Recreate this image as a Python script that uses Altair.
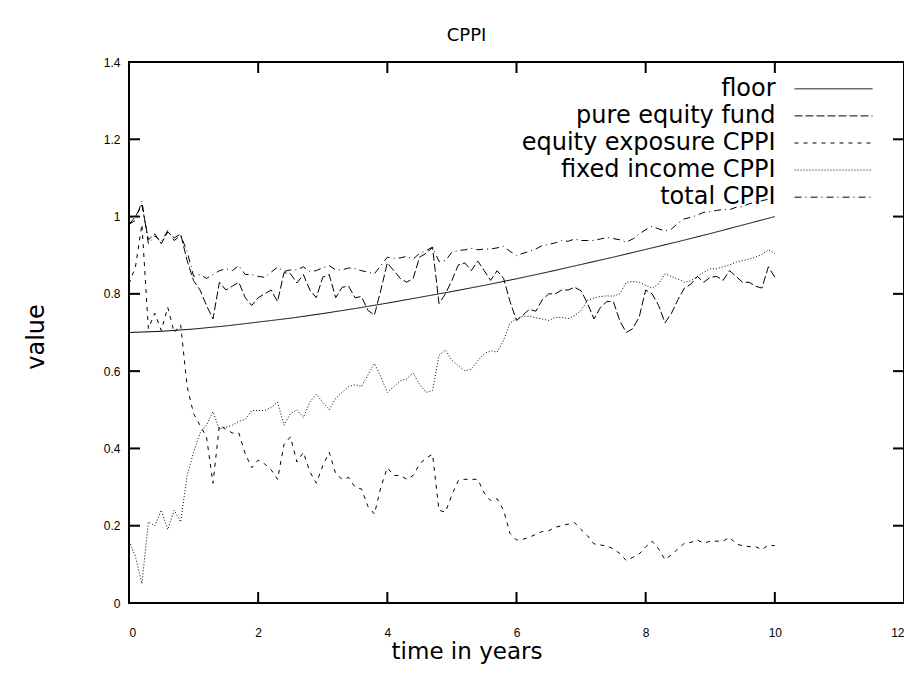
import altair as alt
import pandas as pd

# ---------------- data ----------------
years = [round(i * 0.1, 1) for i in range(101)]
floor_years = [round(i * 0.5, 1) for i in range(21)]

floor_vals = [0.700, 0.703, 0.709, 0.717, 0.727, 0.737, 0.749, 0.762, 0.776, 0.791,
              0.806, 0.822, 0.839, 0.857, 0.876, 0.895, 0.915, 0.935, 0.956, 0.978,
              1.000]

pure_equity = [
    0.98, 1.0, 1.03, 0.94, 0.955, 0.93, 0.96, 0.945, 0.955, 0.886,
    0.834, 0.81, 0.77, 0.735, 0.83, 0.81, 0.82, 0.83, 0.79, 0.77,
    0.79, 0.80, 0.81, 0.78, 0.855, 0.852, 0.828, 0.85, 0.81, 0.79,
    0.843, 0.85, 0.79, 0.817, 0.82, 0.79, 0.793, 0.757, 0.745, 0.81,
    0.88, 0.86, 0.84, 0.83, 0.84, 0.895, 0.905, 0.92, 0.775, 0.80,
    0.835, 0.875, 0.88, 0.86, 0.885, 0.86, 0.835, 0.86, 0.84, 0.78,
    0.731, 0.745, 0.76, 0.755, 0.785, 0.80, 0.80, 0.81, 0.81, 0.817,
    0.808, 0.775, 0.735, 0.765, 0.78, 0.78, 0.73, 0.70, 0.71, 0.74,
    0.81, 0.80, 0.77, 0.725, 0.75, 0.785, 0.815, 0.825, 0.845, 0.83,
    0.843, 0.845, 0.835, 0.86, 0.845, 0.83, 0.83, 0.82, 0.815, 0.87,
    0.843]

equity_exposure = [
    0.826, 0.87, 0.98, 0.71, 0.75, 0.705, 0.765, 0.70, 0.72, 0.56,
    0.49, 0.46, 0.43, 0.31, 0.46, 0.45, 0.44, 0.44, 0.386, 0.35,
    0.37, 0.36, 0.345, 0.32, 0.41, 0.43, 0.365, 0.39, 0.34, 0.31,
    0.355, 0.39, 0.335, 0.32, 0.325, 0.30, 0.295, 0.25, 0.23, 0.30,
    0.35, 0.33, 0.33, 0.32, 0.33, 0.36, 0.375, 0.385, 0.24, 0.235,
    0.28, 0.317, 0.32, 0.32, 0.32, 0.285, 0.265, 0.27, 0.24, 0.18,
    0.163, 0.165, 0.17, 0.178, 0.185, 0.187, 0.196, 0.20, 0.204, 0.208,
    0.19, 0.174, 0.153, 0.15, 0.148, 0.14, 0.128, 0.11, 0.118, 0.127,
    0.145, 0.16, 0.14, 0.112, 0.125, 0.14, 0.155, 0.157, 0.163, 0.155,
    0.16, 0.16, 0.16, 0.17, 0.153, 0.148, 0.146, 0.146, 0.138, 0.15,
    0.148]

fixed_income = [
    0.16, 0.12, 0.05, 0.21, 0.20, 0.24, 0.19, 0.24, 0.21, 0.33,
    0.39, 0.44, 0.46, 0.495, 0.45, 0.455, 0.46, 0.47, 0.475, 0.498,
    0.498, 0.498, 0.506, 0.52, 0.46, 0.49, 0.50, 0.48, 0.52, 0.54,
    0.52, 0.50, 0.53, 0.545, 0.56, 0.565, 0.56, 0.59, 0.62, 0.585,
    0.545, 0.56, 0.575, 0.58, 0.595, 0.565, 0.545, 0.55, 0.64, 0.655,
    0.628, 0.614, 0.601, 0.605, 0.627, 0.645, 0.653, 0.649, 0.68, 0.725,
    0.735, 0.742, 0.742, 0.738, 0.735, 0.731, 0.739, 0.739, 0.736, 0.744,
    0.757, 0.783, 0.789, 0.793, 0.795, 0.794, 0.80, 0.83, 0.832, 0.83,
    0.822, 0.815, 0.826, 0.852, 0.845, 0.838, 0.83, 0.834, 0.845, 0.856,
    0.865, 0.865, 0.87, 0.875, 0.882, 0.886, 0.89, 0.895, 0.902, 0.914,
    0.905]

total_cppi = [
    0.98, 0.99, 1.04, 0.93, 0.95, 0.935, 0.964, 0.938, 0.951, 0.91,
    0.845, 0.85, 0.84, 0.85, 0.86, 0.865, 0.86, 0.873, 0.85, 0.85,
    0.845, 0.843, 0.856, 0.869, 0.858, 0.862, 0.862, 0.87, 0.858, 0.86,
    0.868, 0.873, 0.862, 0.862, 0.867, 0.865, 0.86, 0.856, 0.852, 0.873,
    0.895, 0.892, 0.893, 0.897, 0.89, 0.905, 0.912, 0.921, 0.884, 0.886,
    0.908, 0.912, 0.914, 0.918, 0.914, 0.916, 0.916, 0.919, 0.923, 0.91,
    0.899, 0.905, 0.91, 0.916, 0.925, 0.928, 0.932, 0.938, 0.936, 0.942,
    0.938, 0.938, 0.938, 0.942, 0.946, 0.943, 0.94, 0.934, 0.942, 0.955,
    0.966, 0.975, 0.968, 0.963, 0.968, 0.983, 0.994, 0.998, 1.004, 1.011,
    1.013, 1.016, 1.018, 1.018, 1.024, 1.026, 1.033, 1.037, 1.041, 1.045,
    1.046]

series_names = ["floor", "pure equity fund", "equity exposure CPPI",
                "fixed income CPPI", "total CPPI"]
dashes = [[1, 0], [8, 3], [4, 5], [1, 2], [7, 4, 1, 4]]
x_ticks = [0, 2, 4, 6, 8, 10, 12]
y_ticks = [0, 0.2, 0.4, 0.6, 0.8, 1, 1.2, 1.4]

# ---------------- table ----------------
rows = [{"series": "floor", "t": t, "v": v} for t, v in zip(floor_years, floor_vals)]
for name, vals in [("pure equity fund", pure_equity),
                   ("equity exposure CPPI", equity_exposure),
                   ("fixed income CPPI", fixed_income),
                   ("total CPPI", total_cppi)]:
    rows += [{"series": name, "t": t, "v": v} for t, v in zip(years, vals)]
df = pd.DataFrame(rows)

W, H = 775, 541
FONT = "DejaVu Sans"
TICK_FONT = "Liberation Sans"

xs = alt.Scale(domain=[0, 12], nice=False, zero=False)
ys = alt.Scale(domain=[0, 1.4], nice=False, zero=False)

x_axis = alt.Axis(values=x_ticks, title="time in years", ticks=False, tickSize=0,
                  domain=False, grid=False, labelPadding=24, labelFontSize=12,
                  labelFlush=True, labelOverlap=False,
                  labelFont=TICK_FONT, titleFont=FONT, titleFontSize=23,
                  titleFontWeight="normal", titleX=337.5, titleY=48.5,
                  titleAlign="center", titleBaseline="middle", format="~g")
y_axis = alt.Axis(values=y_ticks, title="value", ticks=False, tickSize=0,
                  domain=False, grid=False, labelPadding=9, labelFontSize=12,
                  labelFlush=False, labelOverlap=False,
                  labelFont=TICK_FONT, titleFont=FONT, titleFontSize=24,
                  titleFontWeight="normal", titleAngle=270, titleX=-92.5,
                  titleY=274.5, titleAlign="center", titleBaseline="middle",
                  format="~g")

X_ENC = alt.X("t:Q", scale=xs, axis=x_axis)
Y_ENC = alt.Y("v:Q", scale=ys, axis=y_axis)

lines = alt.Chart(df).mark_line(strokeWidth=1, color="black").encode(
    x=X_ENC, y=Y_ENC,
    detail="series:N",
    strokeDash=alt.StrokeDash("series:N",
                              scale=alt.Scale(domain=series_names, range=dashes),
                              legend=None),
)

xt = pd.DataFrame({"t": x_ticks})
yt = pd.DataFrame({"v": y_ticks})
tick_bottom = alt.Chart(xt).mark_tick(orient="vertical", size=11, thickness=2, color="black",
                                      opacity=1).encode(x=X_ENC, y=alt.value(H - 5.5))
tick_top = alt.Chart(xt).mark_tick(orient="vertical", size=11, thickness=2, color="black",
                                   opacity=1).encode(x=X_ENC, y=alt.value(5.5))
tick_left = alt.Chart(yt).mark_tick(orient="horizontal", size=11, thickness=2, color="black",
                                    opacity=1).encode(y=Y_ENC, x=alt.value(5.5))
tick_right = alt.Chart(yt).mark_tick(orient="horizontal", size=11, thickness=2, color="black",
                                     opacity=1).encode(y=Y_ENC, x=alt.value(W - 5.5))

legend_layers = []
for i, (name, dash) in enumerate(zip(series_names, dashes)):
    ly = 26.8 + 27.1 * i
    one = pd.DataFrame({"label": [name]})
    legend_layers.append(
        alt.Chart(one).mark_text(align="right", baseline="middle", font=FONT,
                                 fontSize=24, color="black").encode(
            x=alt.value(646.5), y=alt.value(ly), text="label:N"))
    legend_layers.append(
        alt.Chart(one).mark_rule(strokeWidth=1, color="black", strokeDash=dash).encode(
            x=alt.value(665.5), x2=alt.value(743.5), y=alt.value(ly)))

chart = alt.layer(lines, tick_bottom, tick_top, tick_left, tick_right, *legend_layers).properties(
    width=W, height=H,
    background="white",
    title=alt.TitleParams("CPPI", font=FONT, fontSize=18, fontWeight="normal",
                          anchor="middle", dx=-50, offset=11, color="black"),
    padding={"left": 121, "top": 54, "right": 0, "bottom": 70},
    autosize=alt.AutoSizeParams(type="none"),
).configure_view(stroke="black", strokeWidth=2)

chart.save("out.html", embed_options={"renderer": "svg", "actions": False})
